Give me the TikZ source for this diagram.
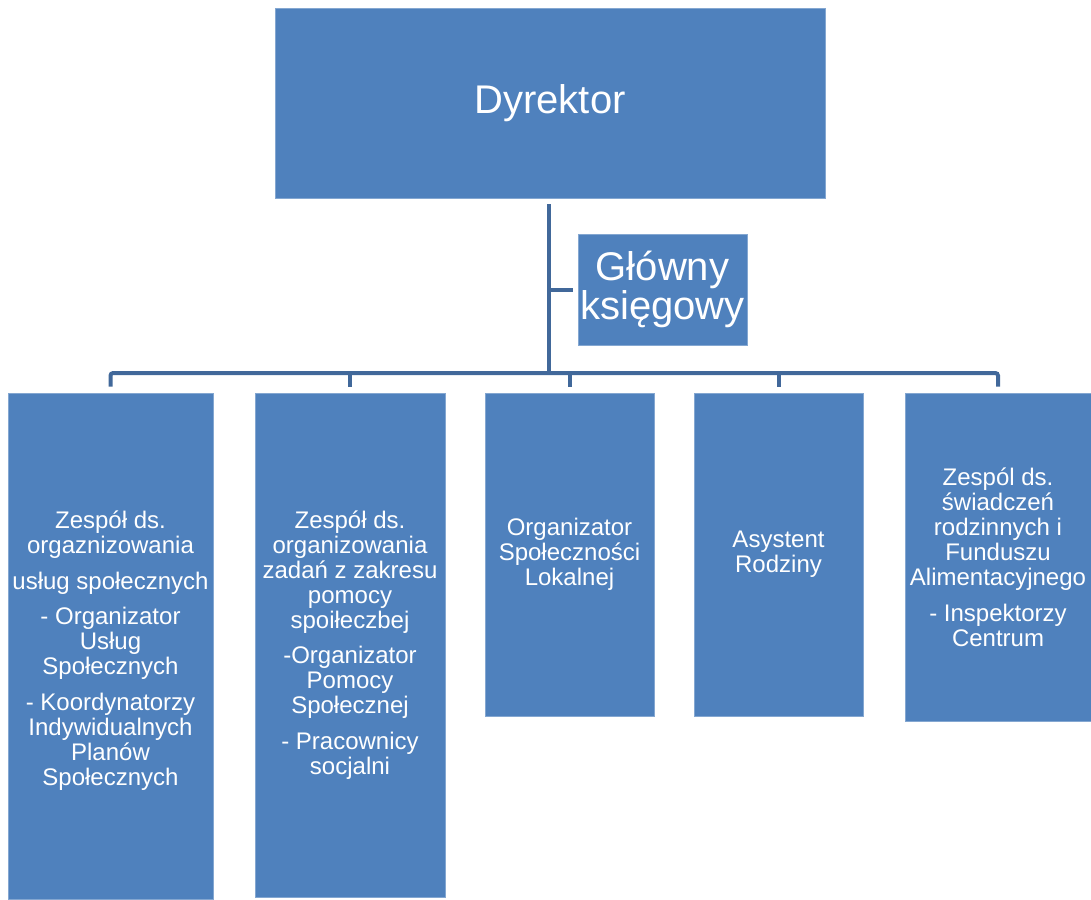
\documentclass[tikz,border=0pt]{standalone}
\usepackage{fontspec}
\setmainfont{Liberation Sans}
\definecolor{boxblue}{HTML}{4F81BD}
\definecolor{linecol}{HTML}{41689A}
\tikzset{
  orgbox/.style={fill=boxblue, draw=boxblue!70!white, line width=0.4pt, text=white, align=center, inner sep=0pt, anchor=center},
  bigtxt/.style={font=\fontsize{30}{30}\selectfont},
  smalltxt/.style={font=\fontsize{18}{18.75}\selectfont},
  boxtext/.style={text=white, align=center, inner sep=0pt},
  conn/.style={draw=linecol, line width=3pt}
}
\begin{document}
\begin{tikzpicture}[x=0.75pt,y=-0.75pt]
\useasboundingbox (0,0) rectangle (1091,899);
\node[orgbox, bigtxt, minimum width=412.5pt, minimum height=142.5pt] (dyr) at (550,103) {Dyrektor};
\node[orgbox, font=\fontsize{30}{29}\selectfont, minimum width=126.75pt, minimum height=83.25pt] (gk) at (662.5,289.5) {Główny\\księgowy};
\node[orgbox, smalltxt, minimum width=153.75pt, minimum height=379.5pt] (b1) at (110.5,646) {};
\node[boxtext, smalltxt] (b1t) at ([yshift=-3.5pt]b1.center) {Zespół ds.\\orgaznizowania\\[8pt]usług społecznych\\[8pt]- Organizator\\Usług\\Społecznych\\[8pt]- Koordynatorzy\\Indywidualnych\\Planów\\Społecznych};
\node[orgbox, smalltxt, minimum width=142.5pt, minimum height=378pt] (b2) at (350,645) {Zespół ds.\\organizowania\\zadań z zakresu\\pomocy\\spoiłeczbej\\[8pt]-Organizator\\Pomocy\\Społecznej\\[8pt]- Pracownicy\\socjalni};
\node[orgbox, smalltxt, minimum width=126.75pt, minimum height=242.25pt] (b3) at (569.5,554.5) {Organizator\\Społeczności\\Lokalnej};
\node[orgbox, smalltxt, minimum width=126.75pt, minimum height=242.25pt] (b4) at (778.5,554.5) {Asystent\\Rodziny};
\node[orgbox, smalltxt, minimum width=139.5pt, minimum height=246pt] (b5) at (998,557) {Zespól ds.\\świadczeń\\rodzinnych i\\Funduszu\\Alimentacyjnego\\[8pt]- Inspektorzy\\Centrum};
\coordinate (bar) at (549,373);
\draw[conn] ([yshift=-4.5pt]dyr.south -| bar) -- (bar);
\draw[conn] (gk.west -| bar) -- ([xshift=-3.75pt]gk.west);
\draw[conn, rounded corners=2pt] ([yshift=4.5pt]b1.north) |- (bar) -| ([yshift=4.5pt]b5.north);
\draw[conn] (bar -| b2.north) -- ([yshift=4.5pt]b2.north);
\draw[conn] (bar -| b3.north) -- ([yshift=4.5pt]b3.north);
\draw[conn] (bar -| b4.north) -- ([yshift=4.5pt]b4.north);
\end{tikzpicture}
\end{document}
